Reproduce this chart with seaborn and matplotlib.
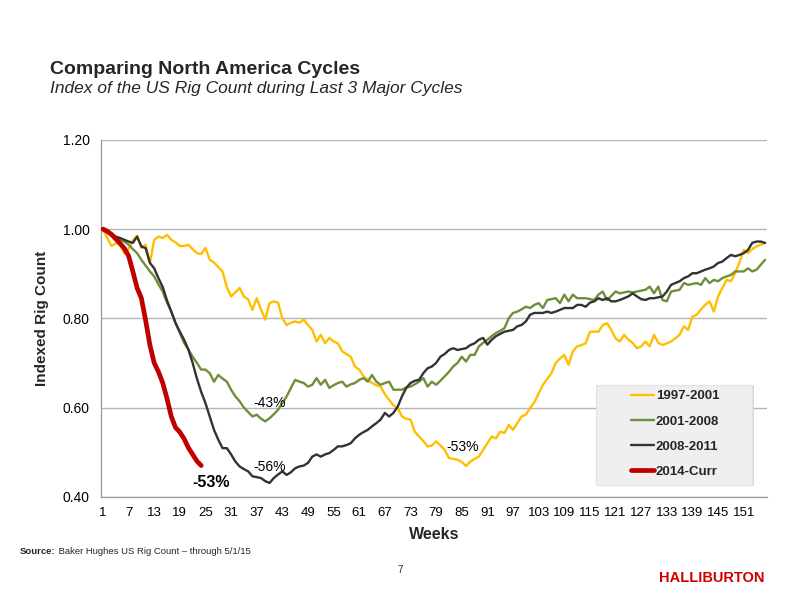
import numpy as np
import pandas as pd
import seaborn as sns
import matplotlib.pyplot as plt
from matplotlib.patches import Rectangle
from matplotlib.text import Annotation
from matplotlib.ticker import FixedLocator, FormatStrFormatter

# =========================
# DATA
# =========================
weeks = list(range(1, 157))

cycle_1997 = [
    1.000, 0.980, 0.962, 0.968, 0.965, 0.945, 0.955, 0.975, 0.985, 0.958,
    0.965, 0.924, 0.976, 0.983, 0.980, 0.987, 0.976, 0.970, 0.962, 0.962,
    0.965, 0.955, 0.946, 0.944, 0.958, 0.931, 0.925, 0.915, 0.905, 0.870,
    0.849, 0.858, 0.868, 0.849, 0.842, 0.819, 0.845, 0.820, 0.797, 0.834,
    0.838, 0.835, 0.800, 0.785, 0.790, 0.793, 0.790, 0.797, 0.785, 0.774,
    0.748, 0.763, 0.744, 0.756, 0.748, 0.744, 0.726, 0.720, 0.714, 0.692,
    0.685, 0.670, 0.662, 0.655, 0.650, 0.647, 0.630, 0.617, 0.605, 0.599,
    0.580, 0.575, 0.573, 0.546, 0.535, 0.525, 0.513, 0.515, 0.524, 0.515,
    0.505, 0.487, 0.485, 0.483, 0.478, 0.469, 0.479, 0.485, 0.490, 0.505,
    0.520, 0.535, 0.531, 0.546, 0.543, 0.561, 0.550, 0.565, 0.580, 0.584,
    0.599, 0.612, 0.632, 0.651, 0.664, 0.677, 0.700, 0.710, 0.718, 0.696,
    0.726, 0.737, 0.740, 0.744, 0.770, 0.770, 0.770, 0.785, 0.789, 0.774,
    0.755, 0.748, 0.763, 0.752, 0.745, 0.733, 0.737, 0.748, 0.737, 0.763,
    0.745, 0.740, 0.744, 0.748, 0.755, 0.763, 0.782, 0.774, 0.804, 0.808,
    0.820, 0.830, 0.838, 0.815, 0.849, 0.868, 0.886, 0.883, 0.901, 0.925,
    0.953, 0.946, 0.955, 0.961, 0.965, 0.969,
]

cycle_2001 = [
    1.000, 0.993, 0.987, 0.982, 0.976, 0.972, 0.965, 0.955, 0.946, 0.931,
    0.918, 0.905, 0.894, 0.876, 0.860, 0.835, 0.815, 0.790, 0.767, 0.745,
    0.730, 0.714, 0.700, 0.685, 0.685, 0.677, 0.658, 0.673, 0.665, 0.658,
    0.640, 0.625, 0.614, 0.600, 0.590, 0.580, 0.584, 0.575, 0.569, 0.576,
    0.585, 0.595, 0.610, 0.625, 0.644, 0.662, 0.658, 0.655, 0.647, 0.651,
    0.666, 0.651, 0.662, 0.644, 0.650, 0.655, 0.658, 0.647, 0.652, 0.655,
    0.662, 0.666, 0.658, 0.673, 0.658, 0.651, 0.655, 0.658, 0.640, 0.640,
    0.640, 0.645, 0.647, 0.652, 0.658, 0.666, 0.647, 0.658, 0.651, 0.660,
    0.670, 0.680, 0.692, 0.700, 0.714, 0.703, 0.718, 0.718, 0.737, 0.745,
    0.752, 0.760, 0.767, 0.772, 0.778, 0.800, 0.812, 0.815, 0.820, 0.826,
    0.823, 0.830, 0.834, 0.823, 0.841, 0.843, 0.845, 0.834, 0.853, 0.838,
    0.853, 0.845, 0.845, 0.845, 0.843, 0.841, 0.853, 0.860, 0.841, 0.850,
    0.860, 0.856, 0.858, 0.860, 0.858, 0.860, 0.862, 0.864, 0.871, 0.856,
    0.871, 0.841, 0.838, 0.860, 0.862, 0.864, 0.879, 0.875, 0.877, 0.879,
    0.875, 0.890, 0.879, 0.886, 0.883, 0.890, 0.894, 0.897, 0.905, 0.905,
    0.905, 0.912, 0.905, 0.909, 0.920, 0.931,
]

cycle_2008 = [
    1.000, 0.995, 0.990, 0.983, 0.980, 0.976, 0.972, 0.969, 0.983, 0.961,
    0.957, 0.924, 0.912, 0.890, 0.870, 0.840, 0.815, 0.789, 0.770, 0.752,
    0.730, 0.700, 0.665, 0.635, 0.610, 0.580, 0.550, 0.528, 0.509, 0.509,
    0.495, 0.479, 0.468, 0.462, 0.457, 0.446, 0.444, 0.442, 0.435, 0.431,
    0.442, 0.450, 0.457, 0.449, 0.455, 0.464, 0.468, 0.470, 0.476, 0.490,
    0.495, 0.490, 0.495, 0.498, 0.505, 0.513, 0.513, 0.516, 0.520, 0.531,
    0.539, 0.545, 0.550, 0.558, 0.565, 0.573, 0.588, 0.580, 0.588, 0.602,
    0.625, 0.644, 0.655, 0.660, 0.662, 0.677, 0.688, 0.692, 0.700, 0.714,
    0.720, 0.729, 0.733, 0.729, 0.731, 0.733, 0.740, 0.744, 0.752, 0.756,
    0.741, 0.752, 0.760, 0.765, 0.770, 0.772, 0.774, 0.782, 0.785, 0.793,
    0.808, 0.812, 0.812, 0.812, 0.815, 0.812, 0.815, 0.819, 0.823, 0.823,
    0.823, 0.830, 0.830, 0.826, 0.835, 0.838, 0.845, 0.841, 0.845, 0.838,
    0.838, 0.841, 0.845, 0.849, 0.856, 0.849, 0.843, 0.841, 0.845, 0.845,
    0.847, 0.849, 0.860, 0.875, 0.879, 0.883, 0.890, 0.894, 0.901, 0.901,
    0.905, 0.909, 0.912, 0.916, 0.924, 0.927, 0.935, 0.942, 0.939, 0.942,
    0.946, 0.953, 0.969, 0.972, 0.972, 0.969,
]

cycle_2014 = [
    1.000, 0.995, 0.988, 0.978, 0.968, 0.957, 0.940, 0.905, 0.868, 0.845,
    0.795, 0.740, 0.700, 0.680, 0.655, 0.620, 0.580, 0.555, 0.545, 0.530,
    0.510, 0.495, 0.480, 0.470,
]

series_names = ["1997-2001", "2001-2008", "2008-2011", "2014-Curr"]
series_values = [cycle_1997, cycle_2001, cycle_2008, cycle_2014]
series_colors = ["#FFBF00", "#6E8E3A", "#333333", "#C00000"]
series_widths = [1.7, 1.7, 1.7, 3.4]

ytick_values = [0.40, 0.60, 0.80, 1.00, 1.20]
xtick_labels = list(range(1, 152, 6))

# annotations: (text, week, value, size, weight)
notes = [
    ("-43%", 40.0, 0.611, 10, "normal"),
    ("-56%", 40.0, 0.467, 10, "normal"),
    ("-53%", 85.3, 0.512, 10, "normal"),
    ("-53%", 26.3, 0.432, 11.5, "bold"),
]

# =========================
# STYLE
# =========================
sns.set_style("white")
plt.rcParams['font.family'] = ['Liberation Sans', 'DejaVu Sans']

fig = plt.figure(figsize=(8, 6), dpi=100)
ax = fig.add_axes([0.126, 0.172, 0.833, 0.595])

# =========================
# LINES
# =========================
for name, vals, col, lw in zip(series_names, series_values, series_colors, series_widths):
    df = pd.DataFrame({'week': weeks[:len(vals)], 'value': vals})
    sns.lineplot(data=df, x='week', y='value', ax=ax, color=col, linewidth=lw,
                 label=name, solid_joinstyle='round', solid_capstyle='round', zorder=3)

# =========================
# AXES
# =========================
ax.set_xlim(0.5, 156.5)
ax.set_ylim(0.4, 1.2)
ax.set_yticks(ytick_values)
ax.yaxis.set_major_formatter(FormatStrFormatter('%.2f'))
ax.set_xticks(xtick_labels)
ax.set_xticklabels([str(v) for v in xtick_labels])
ax.xaxis.set_minor_locator(FixedLocator(np.arange(0.5, 156, 5)))
ax.tick_params(axis='x', which='major', length=0, pad=7, labelsize=9, colors='black')
ax.tick_params(axis='x', which='minor', length=4, width=0.8, color='#999999')
ax.tick_params(axis='y', which='major', length=4, width=0.8, color='#999999',
               labelsize=9, pad=4, labelcolor='black')
for lab in ax.get_xticklabels() + ax.get_yticklabels():
    lab.set_family(['Liberation Sans Narrow', 'Liberation Sans'])
    lab.set_fontsize(9.5)
for lab in ax.get_yticklabels():
    lab.set_fontsize(10)

ax.yaxis.grid(True, color='#b5b5b5', linewidth=1.0)
ax.set_axisbelow(True)
for side in ['top', 'right']:
    ax.spines[side].set_visible(False)
for side in ['left', 'bottom']:
    ax.spines[side].set_color('#999999')
    ax.spines[side].set_linewidth(0.9)

ax.set_xlabel("Weeks", fontsize=11.5, fontweight='bold', labelpad=6)
ax.set_ylabel("Indexed Rig Count", fontsize=11, fontweight='bold', labelpad=10)

for txt, wk, val, size, weight in notes:
    ax.text(wk, val, txt, fontsize=size, fontweight=weight, ha='center', va='center',
            color='black', zorder=5)

# =========================
# LEGEND
# =========================
ax.add_patch(Rectangle((0.746, 0.030), 0.234, 0.284, transform=ax.transAxes,
                       facecolor='#d8d8d8', edgecolor='none', zorder=5))
ax.add_patch(Rectangle((0.743, 0.034), 0.234, 0.280, transform=ax.transAxes,
                       facecolor='#efefef', edgecolor='#e2e2e2', linewidth=0.8, zorder=6))
leg = ax.legend(loc='center', bbox_to_anchor=(0.862, 0.176), frameon=False,
                fontsize=9.5, handlelength=1.75, handletextpad=0.1,
                labelspacing=0.98, borderpad=0)
leg.set_zorder(7)
for t in leg.get_texts():
    t.set_fontweight('bold')

# =========================
# TITLES & FOOTER
# =========================
fig.text(0.062, 0.885, "Comparing North America Cycles", fontsize=14, fontweight='bold',
         va='center', ha='left')
fig.text(0.062, 0.853, "Index of the US Rig Count during Last 3 Major Cycles", fontsize=12.5,
         style='italic', va='center', ha='left')

src = fig.text(0.025, 0.080, "Source:", fontsize=6.8, fontweight='bold', va='center', ha='left')
fig.add_artist(Annotation(" Baker Hughes US Rig Count \u2013 through 5/1/15",
                          xy=(1, 0.5), xycoords=src, va='center', ha='left',
                          fontsize=6.8))
fig.text(0.500, 0.050, "7", fontsize=7, va='center', ha='center')
fig.text(0.956, 0.037, "HALLIBURTON", fontsize=10.5, fontweight='bold', color='#CC0000',
         va='center', ha='right')

plt.savefig("out.png", dpi=100)
